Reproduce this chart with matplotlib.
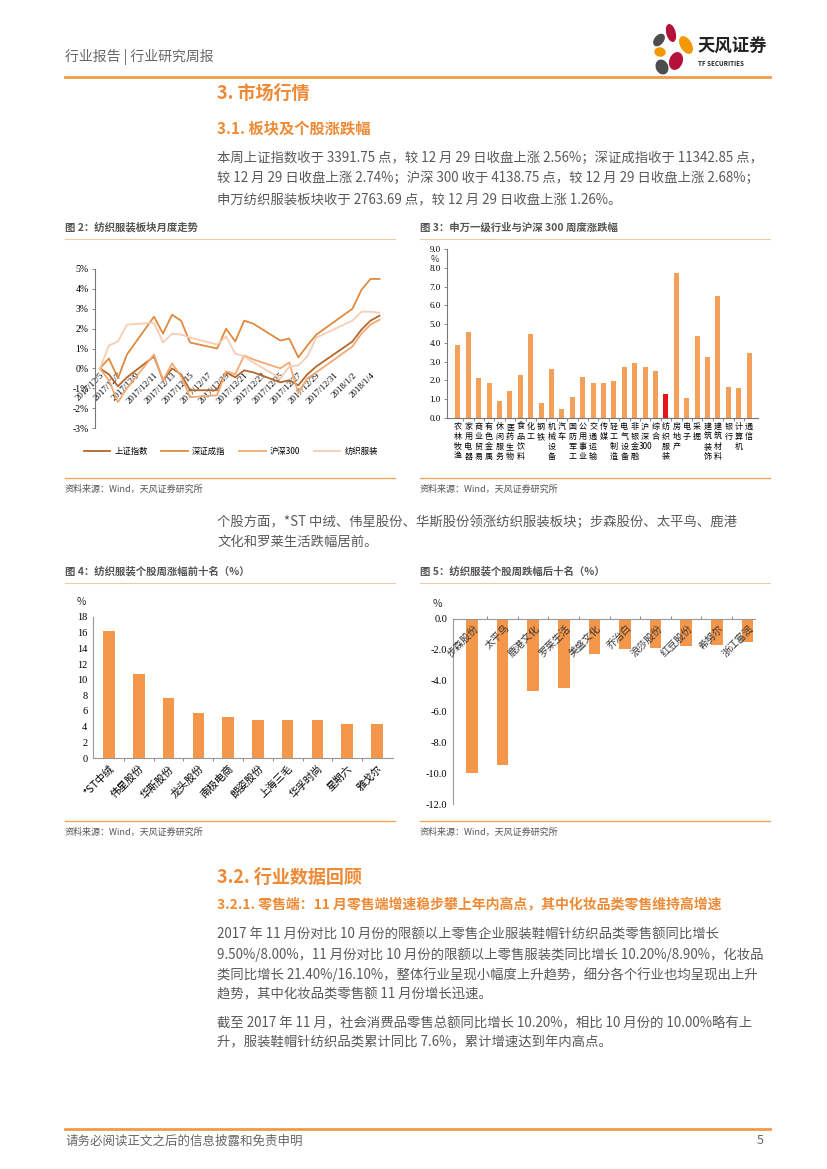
import numpy as np
import pandas as pd
import matplotlib
matplotlib.use('Agg')
import matplotlib.pyplot as plt
from matplotlib.lines import Line2D
from matplotlib.patches import Ellipse
from matplotlib.ticker import FormatStrFormatter

plt.rcParams['font.family'] = ['Noto Sans CJK SC', 'DejaVu Sans']
plt.rcParams['axes.unicode_minus'] = False
SERIF = ['Liberation Serif', 'Noto Sans CJK SC']

# ---- DATA ----
# chart 2: cumulative change since 2017/12/5 (%)
trade_days = ['2017-12-05', '2017-12-06', '2017-12-07', '2017-12-08', '2017-12-11',
              '2017-12-12', '2017-12-13', '2017-12-14', '2017-12-15', '2017-12-18',
              '2017-12-19', '2017-12-20', '2017-12-21', '2017-12-22', '2017-12-25',
              '2017-12-26', '2017-12-27', '2017-12-28', '2017-12-29', '2018-01-02',
              '2018-01-03', '2018-01-04', '2018-01-05']
sh_index = [0.0, -0.3, -0.9, -0.45, 0.6, -0.6, 0.0, -0.3, -1.1, -1.1, -0.2, -0.45,
            -0.1, -0.2, -0.7, -0.6, -0.85, -0.3, 0.1, 1.35, 1.95, 2.4, 2.65]
sz_index = [0.0, 0.5, -0.5, 0.7, 2.6, 1.75, 2.7, 2.4, 1.3, 1.0, 2.0, 1.35,
            2.4, 2.25, 1.4, 1.5, 0.55, 1.15, 1.7, 3.0, 3.95, 4.5, 4.5]
hs300 = [0.0, -0.6, -1.7, -1.0, 0.7, -0.6, 0.25, -0.4, -1.45, -1.35, -0.15, -0.3,
         0.65, 0.45, 0.0, 0.3, -1.25, -0.5, -0.2, 1.1, 1.75, 2.2, 2.45]
textile = [0.0, 1.15, 1.35, 2.2, 2.3, 1.3, 1.75, 1.7, 1.55, 1.2, 1.6, 0.75,
           0.6, 0.3, -0.5, 0.1, 0.15, 0.6, 1.55, 2.4, 2.85, 2.85, 2.8]
line_names = ['上证指数', '深证成指', '沪深300', '纺织服装']

# chart 3: SW level-1 industries weekly change (%)
sw_names = ['农林牧渔', '家用电器', '商业贸易', '有色金属', '休闲服务', '医药生物',
            '食品饮料', '化工', '钢铁', '机械设备', '汽车', '国防军工', '公用事业',
            '交通运输', '传媒', '轻工制造', '电气设备', '非银金融', '沪深300',
            '综合', '纺织服装', '房地产', '电子', '采掘', '建筑装饰', '建筑材料',
            '银行', '计算机', '通信']
sw_chg = [3.9, 4.6, 2.15, 1.85, 0.9, 1.45, 2.3, 4.5, 0.8, 2.6, 0.5, 1.1, 2.2,
          1.85, 1.85, 1.95, 2.7, 2.95, 2.7, 2.5, 1.3, 7.7, 1.05, 4.35, 3.25,
          6.5, 1.65, 1.6, 3.45]

# chart 4 / 5: top and bottom ten stocks (%)
top_names = ['*ST中绒', '伟星股份', '华斯股份', '龙头股份', '南极电商', '朗姿股份',
             '上海三毛', '华孚时尚', '星期六', '雅戈尔']
top_chg = [16.2, 10.7, 7.6, 5.8, 5.2, 4.9, 4.9, 4.8, 4.4, 4.3]
bottom_names = ['步森股份', '太平鸟', '鹿港文化', '罗莱生活', '美盛文化', '乔治白',
                '浪莎股份', '红豆股份', '希努尔', '浙江富润']
bottom_chg = [-10.0, -9.5, -4.7, -4.45, -2.3, -1.95, -1.85, -1.75, -1.7, -1.5]

# ---- PAGE SETUP ----
W, H = 827, 1169
fig = plt.figure(figsize=(W / 100, H / 100), dpi=100)

ORANGE = '#EE8A35'
LINE_OR = '#F2A55E'
GRAY = '#595959'
BAR = '#F2A05A'
BODY = 9.6


def fx(x):
    return x / W


def fy(y):
    return 1 - y / H


def rect(x0, y0, x1, y1):
    return [x0 / W, 1 - y1 / H, (x1 - x0) / W, (y1 - y0) / H]


def hline(x0, x1, y, color=LINE_OR, lw=1.0):
    fig.add_artist(Line2D([fx(x0), fx(x1)], [fy(y), fy(y)], color=color, lw=lw))


def txt(x, y, s, size=9, color=GRAY, **kw):
    fig.text(fx(x), fy(y), s, fontsize=size, color=color, va='center', **kw)


# header
txt(65, 57, '行业报告 | 行业研究周报', size=10, color='#666666')
hline(65, 770, 77, color='#F09A4A', lw=2.0)
logo = fig.add_axes(rect(648, 22, 696, 76))
logo.set_xlim(648, 696)
logo.set_ylim(76, 22)
logo.axis('off')
for (cx, cy, w, h, a, c) in [(671, 33, 8, 17, -15, '#B5123A'),
                             (659, 40, 8, 13, 40, '#4D4D4D'),
                             (686, 45, 10, 18, -30, '#F39800'),
                             (660, 52, 10, 8, 10, '#F39800'),
                             (676, 61, 12, 17, 20, '#B5123A'),
                             (662, 67, 11, 14, -25, '#4D4D4D')]:
    logo.add_patch(Ellipse((cx, cy), w, h, angle=a, color=c))
txt(697, 47, '天风证券', size=12.5, color='#222222', weight='bold')
txt(698, 64, 'TF SECURITIES', size=4.5, color='#222222', weight='bold')

# section headings and text
txt(217, 93, '3. 市场行情', size=13, color=ORANGE, weight='bold')
txt(217, 128, '3.1. 板块及个股涨跌幅', size=11, color=ORANGE, weight='bold')
para1 = ['本周上证指数收于 3391.75 点，较 12 月 29 日收盘上涨 2.56%；深证成指收于 11342.85 点，',
         '较 12 月 29 日收盘上涨 2.74%；沪深 300 收于 4138.75 点，较 12 月 29 日收盘上涨 2.68%；',
         '申万纺织服装板块收于 2763.69 点，较 12 月 29 日收盘上涨 1.26%。']
for i, s in enumerate(para1):
    txt(217, 158 + 20.5 * i, s, size=BODY)

para2 = ['个股方面，*ST 中绒、伟星股份、华斯股份领涨纺织服装板块；步森股份、太平鸟、鹿港',
         '文化和罗莱生活跌幅居前。']
for i, s in enumerate(para2):
    txt(217, 522 + 20 * i, s, size=BODY)

txt(217, 877, '3.2. 行业数据回顾', size=13, color=ORANGE, weight='bold')
txt(217, 905, '3.2.1. 零售端：11 月零售端增速稳步攀上年内高点，其中化妆品类零售维持高增速',
    size=10, color=ORANGE, weight='bold')
para3 = ['2017 年 11 月份对比 10 月份的限额以上零售企业服装鞋帽针纺织品类零售额同比增长',
         '9.50%/8.00%，11 月份对比 10 月份的限额以上零售服装类同比增长 10.20%/8.90%，化妆品',
         '类同比增长 21.40%/16.10%，整体行业呈现小幅度上升趋势，细分各个行业也均呈现出上升',
         '趋势，其中化妆品类零售额 11 月份增长迅速。']
for i, s in enumerate(para3):
    txt(217, 935 + 19.8 * i, s, size=BODY)
para4 = ['截至 2017 年 11 月，社会消费品零售总额同比增长 10.20%，相比 10 月份的 10.00%略有上',
         '升，服装鞋帽针纺织品类累计同比 7.6%，累计增速达到年内高点。']
for i, s in enumerate(para4):
    txt(217, 1023 + 19.5 * i, s, size=BODY)

# footer
hline(65, 770, 1129, color='#F09A4A', lw=2.0)
txt(65, 1141, '请务必阅读正文之后的信息披露和免责申明', size=9, color='#666666')
txt(757, 1141, '5', size=9, color='#666666')

# figure captions / source lines
for (x0, x1, ytitle, title) in [(65, 395, 227, '图 2：纺织服装板块月度走势'),
                                (420, 770, 227, '图 3：申万一级行业与沪深 300 周度涨跌幅'),
                                (65, 395, 571, '图 4：纺织服装个股周涨幅前十名（%）'),
                                (420, 770, 571, '图 5：纺织服装个股周跌幅后十名（%）')]:
    txt(x0, ytitle, title, size=7.5, color='#555555', weight='bold')
    hline(x0, x1, ytitle + 12, color='#F6C9A2', lw=0.8)
for (x0, x1, yline) in [(65, 395, 478), (420, 770, 478), (65, 395, 821), (420, 770, 821)]:
    hline(x0, x1, yline, color=LINE_OR, lw=1.0)
    txt(x0, yline + 11, '资料来源：Wind，天风证券研究所', size=6.5, color='#555555')

# ---- CHART 2: line chart ----
ax2 = fig.add_axes(rect(95, 269, 384, 428))
ax2.spines['bottom'].set_position(('data', 0))
ax2.spines['bottom'].set_linewidth(0)
dates = pd.to_datetime(trade_days)
line_colors = ['#B5662A', '#E08A40', '#F2AA72', '#F7CDB4']
for vals, c, lab in zip([sh_index, sz_index, hs300, textile], line_colors, line_names):
    ax2.plot(dates, vals, color=c, lw=1.3, label=lab)
ax2.set_xlim(dates[0] - pd.Timedelta(hours=13), dates[-1] + pd.Timedelta(hours=12))
ax2.set_ylim(-3, 5)
ax2.set_yticks(range(-3, 6))
ax2.set_yticklabels([f'{v}%' for v in range(-3, 6)], family=SERIF, fontsize=7)
xt = pd.date_range('2017-12-05', '2018-01-04', freq='2D')
ax2.set_xticks(xt)
ax2.set_xticklabels([f'{d.year}/{d.month}/{d.day}' for d in xt], family=SERIF,
                    fontsize=6.5, rotation=45, ha='right', rotation_mode='anchor')
ax2.spines['top'].set_visible(False)
ax2.spines['right'].set_visible(False)
ax2.spines['left'].set_color('#777777')
ax2.spines['left'].set_linewidth(0.8)
ax2.tick_params(axis='x', length=0, pad=2)
ax2.tick_params(axis='y', length=2.5, width=0.6, color='#777777', pad=2)
ax2.legend(loc='center', bbox_to_anchor=(0.47, -0.145), ncol=4, frameon=False,
           fontsize=6, handlelength=3.2, columnspacing=1.6, handletextpad=0.5)

# ---- CHART 3: industries bar chart ----
ax3 = fig.add_axes(rect(447, 249, 758, 418))
x3 = np.arange(len(sw_names))
cols3 = ['#E8141A' if n == '纺织服装' else BAR for n in sw_names]
ax3.bar(x3, sw_chg, width=0.48, color=cols3)
ax3.set_xlim(-1.05, len(sw_names) - 0.15)
ax3.set_ylim(0, 9)
ax3.set_yticks(np.arange(0, 10))
ax3.yaxis.set_major_formatter(FormatStrFormatter('%.1f'))
for lab in ax3.get_yticklabels():
    lab.set_family(SERIF)
    lab.set_fontsize(6.5)


def vertical(name):
    parts = []
    for ch in name:
        if ch.isdigit() and parts and parts[-1][-1].isdigit():
            parts[-1] += ch
        else:
            parts.append(ch)
    return '\n'.join(parts)


ax3.set_xticks(x3)
ax3.set_xticklabels([vertical(n) for n in sw_names], fontsize=5.8, linespacing=1.12,
                    va='top')
ax3.set_xticks(x3[:-1] + 0.5, minor=True)
ax3.tick_params(axis='x', which='major', length=0, pad=3)
ax3.tick_params(axis='x', which='minor', length=2.5, width=0.6, color='#777777')
ax3.tick_params(axis='y', length=2.5, width=0.6, color='#777777', pad=2)
for s in ['top', 'right']:
    ax3.spines[s].set_visible(False)
for s in ['left', 'bottom']:
    ax3.spines[s].set_color('#777777')
    ax3.spines[s].set_linewidth(0.8)
txt(431, 259, '%', size=6.5, color='#333333')

# ---- CHART 4: top ten ----
ax4 = fig.add_axes(rect(93, 617, 393, 758))
x4 = np.arange(len(top_names))
ax4.bar(x4, top_chg, width=0.39, color='#F5974A')
ax4.set_xlim(-0.54, len(top_names) - 0.46)
ax4.set_ylim(0, 18)
ax4.set_yticks(range(0, 19, 2))
for lab in ax4.get_yticklabels():
    lab.set_family(SERIF)
    lab.set_fontsize(7.5)
ax4.set_xticks(x4)
ax4.set_xticklabels(top_names, fontsize=7.5, rotation=45, ha='right',
                    rotation_mode='anchor')
ax4.set_xticks(x4[:-1] + 0.5, minor=True)
ax4.tick_params(axis='x', which='major', length=0, pad=4)
ax4.tick_params(axis='x', which='minor', length=2.5, width=0.6, color='#777777')
ax4.tick_params(axis='y', length=0, pad=4)
for s in ['top', 'right']:
    ax4.spines[s].set_visible(False)
for s in ['left', 'bottom']:
    ax4.spines[s].set_color('#999999')
    ax4.spines[s].set_linewidth(0.8)
txt(77, 602, '%', size=7.5, color='#333333')

# ---- CHART 5: bottom ten ----
ax5 = fig.add_axes(rect(453, 619, 755, 804))
x5 = np.arange(len(bottom_names))
ax5.bar(x5, bottom_chg, width=0.38, color='#F5974A')
ax5.set_xlim(-0.62, len(bottom_names) - 0.75)
ax5.set_ylim(-12, 0)
ax5.set_yticks(range(-12, 1, 2))
ax5.yaxis.set_major_formatter(FormatStrFormatter('%.1f'))
for lab in ax5.get_yticklabels():
    lab.set_family(SERIF)
    lab.set_fontsize(7.5)
ax5.xaxis.tick_top()
ax5.set_xticks([])
ax5.set_xticks(x5[:-1] + 0.5, minor=True)
ax5.tick_params(axis='x', which='minor', length=2.5, width=0.6, color='#777777',
                top=True, bottom=False)
ax5.tick_params(axis='y', length=0, pad=4)
for i, n in enumerate(bottom_names):
    ax5.text(i + 0.05, -0.25, n, fontsize=7.2, rotation=45, ha='right', va='top',
             rotation_mode='anchor', color='#333333')
for s in ['bottom', 'right']:
    ax5.spines[s].set_visible(False)
for s in ['left', 'top']:
    ax5.spines[s].set_color('#999999')
    ax5.spines[s].set_linewidth(0.8)
txt(433, 604, '%', size=7.5, color='#333333')

fig.savefig('out.png', dpi=100)
